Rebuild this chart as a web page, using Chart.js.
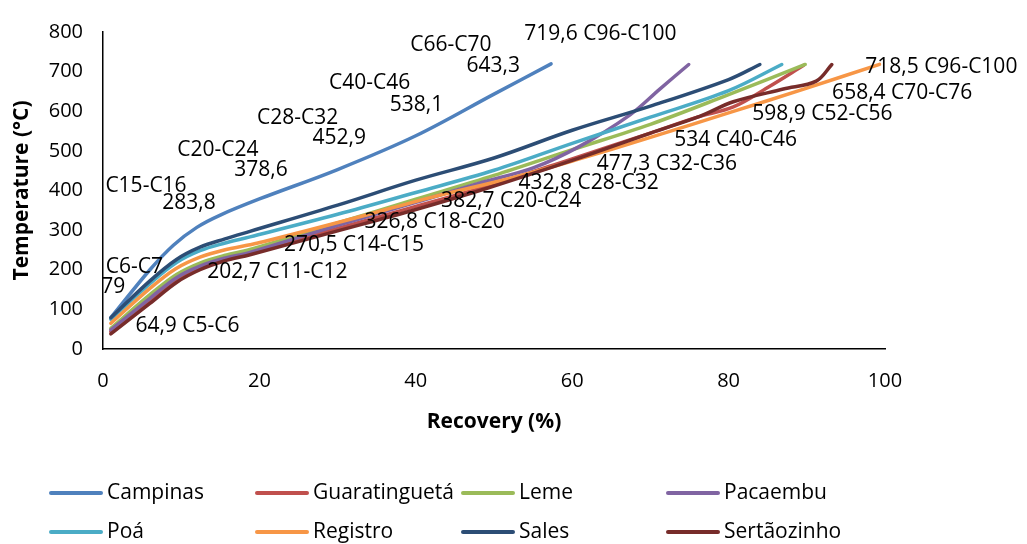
<!DOCTYPE html>
<html>
<head>
<meta charset="utf-8">
<script src="https://cdn.jsdelivr.net/npm/chart.js@4.4.0/dist/chart.umd.min.js"></script>
<style>
  html, body { margin: 0; padding: 0; background: #fff; }
  #wrap { width: 1027px; height: 544px; position: relative; }
</style>
</head>
<body>
<div id="wrap"><canvas id="chart"></canvas></div>
<script>
const seriesNames = ['Campinas', 'Guaratinguetá', 'Leme', 'Pacaembu', 'Poá', 'Registro', 'Sales', 'Sertãozinho'];
const seriesColors = ['#4F81BD', '#C0504D', '#9BBB59', '#8064A2', '#4BACC6', '#F79646', '#2C4D75', '#772C2A'];

// recovery (%) and temperature (°C)
const campinasRec = [1, 6, 9, 12, 15, 20, 30, 40, 50, 57.3];
const campinasTemp = [79, 200, 262, 307, 338, 378.6, 452.9, 538.1, 643.3, 719.6];

const guaraRec = [1, 6, 9.4, 12.4, 15.5, 18.8, 30, 40, 50, 60, 70, 76, 80.6, 85, 89.6];
const guaraTemp = [44, 122, 175, 205, 226, 242, 304, 360, 416, 480, 545, 585, 611, 660, 716];

const lemeRec = [1, 6, 9.4, 12.4, 15.5, 18.8, 30, 40, 50, 60, 70, 80, 89.8];
const lemeTemp = [52, 137, 188, 217, 236, 251, 318, 378, 438, 503, 567, 642, 718];

const pacaembuRec = [1, 6, 9.4, 12.4, 15.5, 18.8, 30, 40, 48, 55, 61, 67.4, 71.2, 74.9];
const pacaembuTemp = [48, 128, 180, 209, 229, 244, 312, 370, 418, 457, 512, 591, 656, 718];

const poaRec = [1, 6, 9.4, 12.4, 15.5, 18.8, 30, 40, 50, 60, 70, 80, 86.8];
const poaTemp = [75, 165, 218, 248, 267, 283, 340, 395, 451, 519, 585, 652, 718];

const registroRec = [1, 6, 9.3, 12.4, 15.5, 18.8, 20.5, 31.5, 42, 52.5, 60.5, 70, 80.5, 90, 99.3];
const registroTemp = [64.9, 153, 202.7, 232, 250, 263, 270.5, 326.8, 382.7, 432.8, 477.3, 534, 598.9, 658.4, 718.5];

const salesRec = [1, 6, 9.4, 12.4, 15.6, 18.8, 30, 40, 50, 60, 70, 80, 84];
const salesTemp = [79, 172, 226, 257, 278, 297, 363, 426, 482, 552, 613, 680, 718];

const sertaoRec = [1, 6, 9.4, 12.4, 15.5, 18.8, 30, 40, 49, 60, 70, 76.3, 80.6, 87, 91.2, 93.2];
const sertaoTemp = [38, 115, 168, 200, 222, 238, 298, 352, 405, 476, 545, 587, 624, 656, 676, 718];

const allRec = [campinasRec, guaraRec, lemeRec, pacaembuRec, poaRec, registroRec, salesRec, sertaoRec];
const allTemp = [campinasTemp, guaraTemp, lemeTemp, pacaembuTemp, poaTemp, registroTemp, salesTemp, sertaoTemp];

const xTicks = [0, 20, 40, 60, 80, 100];
const yTicks = [0, 100, 200, 300, 400, 500, 600, 700, 800];

// point labels (Campinas above, Registro below)
const labelTexts = [
    'C6-C7', '79', 'C15-C16', '283,8', 'C20-C24', '378,6', 'C28-C32', '452,9',
    'C40-C46', '538,1', 'C66-C70', '643,3', '719,6 C96-C100',
    '64,9 C5-C6', '202,7 C11-C12', '270,5 C14-C15', '326,8 C18-C20', '382,7 C20-C24',
    '432,8 C28-C32', '477,3 C32-C36', '534 C40-C46', '598,9 C52-C56', '658,4 C70-C76', '718,5 C96-C100'
];
// where each label text sits, in axis units
const labelAt = [
    [4.0, 207], [1.3, 156], [5.5, 412], [11, 368], [14.7, 502], [20.2, 451], [24.9, 583], [30.2, 532],
    [34.1, 671], [40.1, 615], [44.5, 768], [49.9, 715], [63.6, 795],
    [10.8, 58], [22.3, 195], [32.1, 263], [42.4, 320], [52.2, 373],
    [62.1, 418], [72.1, 468], [80.9, 527], [92, 593], [102.2, 646], [107.2, 712]
];

const FONT = "'Open Sans', sans-serif";

const pointLabels = {
    id: 'pointLabels',
    afterDatasetsDraw(chart) {
        const ctx = chart.ctx;
        const xs = chart.scales.x, ys = chart.scales.y;
        ctx.save();
        ctx.font = '21px ' + FONT;
        ctx.fillStyle = '#000';
        ctx.textAlign = 'center';
        ctx.textBaseline = 'middle';
        labelTexts.forEach((t, i) => {
            ctx.fillText(t, xs.getPixelForValue(labelAt[i][0]), ys.getPixelForValue(labelAt[i][1]));
        });
        ctx.restore();
    }
};

// Excel style legend: 4 fixed columns, 2 rows
const gridLegend = {
    id: 'gridLegend',
    afterDraw(chart) {
        const ctx = chart.ctx;
        const colX = [49, 255, 461, 666];
        const rowY = [493, 532];
        ctx.save();
        ctx.font = '21px ' + FONT;
        ctx.textBaseline = 'middle';
        ctx.textAlign = 'left';
        seriesNames.forEach((name, i) => {
            const x = colX[i % 4], y = rowY[Math.floor(i / 4)];
            ctx.strokeStyle = seriesColors[i];
            ctx.lineWidth = 4;
            ctx.lineCap = 'round';
            ctx.beginPath();
            ctx.moveTo(x + 2, y);
            ctx.lineTo(x + 52, y);
            ctx.stroke();
            ctx.fillStyle = '#000';
            ctx.fillText(name, x + 58, y);
        });
        ctx.restore();
    }
};

const datasets = seriesNames.map((name, i) => ({
    label: name,
    data: allRec[i].map((r, j) => ({ x: r, y: allTemp[i][j] })),
    borderColor: seriesColors[i],
    backgroundColor: seriesColors[i],
    borderWidth: 3.5,
    borderCapStyle: 'round',
    pointRadius: 0,
    tension: 0.35,
    fill: false,
    order: -i
}));

const ctx = document.getElementById('chart').getContext('2d');
new Chart(ctx, {
    type: 'line',
    data: { datasets: datasets },
    options: {
        responsive: true,
        maintainAspectRatio: false,
        animation: false,
        layout: {
            padding: { left: 9, top: 21, right: 142, bottom: 109 }
        },
        scales: {
            x: {
                type: 'linear',
                min: 0,
                max: 100,
                afterBuildTicks: s => { s.ticks = xTicks.map(v => ({ value: v })); },
                afterFit: s => { s.height = 86; },
                grid: { display: false, drawTicks: false },
                border: { color: '#000', width: 1.5 },
                ticks: { padding: 20, color: '#000', font: { family: FONT, size: 20 } },
                title: {
                    display: true,
                    text: 'Recovery (%)',
                    color: '#000',
                    padding: 0,
                    font: { family: FONT, size: 21, weight: 'bold' }
                }
            },
            y: {
                min: 0,
                max: 800,
                afterBuildTicks: s => { s.ticks = yTicks.map(v => ({ value: v })); },
                afterFit: s => { s.width = 94; },
                grid: { display: false, drawTicks: false },
                border: { color: '#000', width: 1.5 },
                ticks: { padding: 20, color: '#000', font: { family: FONT, size: 20 } },
                title: {
                    display: true,
                    text: 'Temperature (°C)',
                    color: '#000',
                    padding: 0,
                    font: { family: FONT, size: 21, weight: 'bold' }
                }
            }
        },
        plugins: {
            legend: { display: false },
            tooltip: { enabled: false }
        }
    },
    plugins: [pointLabels, gridLegend]
});
</script>
</body>
</html>
